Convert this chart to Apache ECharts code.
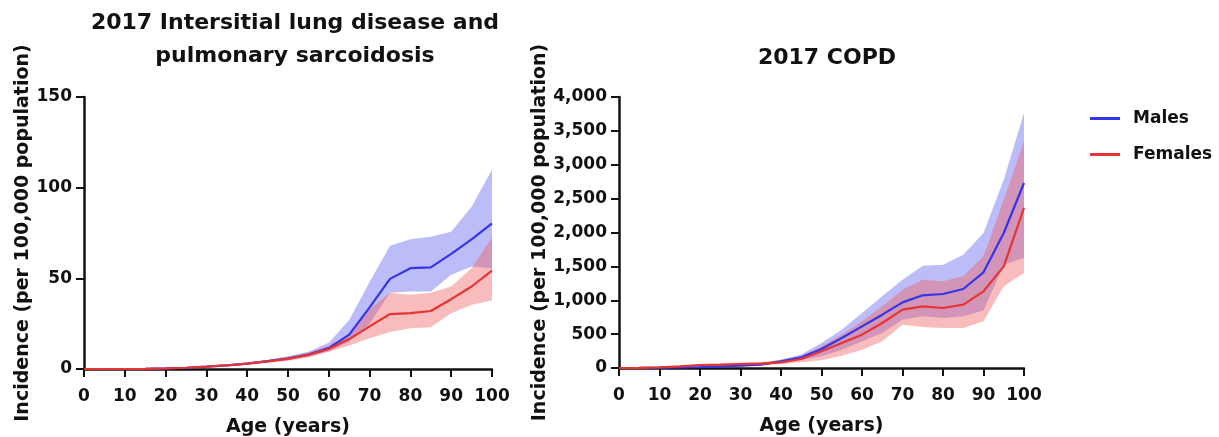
<!DOCTYPE html>
<html><head><meta charset="utf-8">
<script src="https://cdn.jsdelivr.net/npm/echarts@6/dist/echarts.min.js"></script>
<style>html,body{margin:0;padding:0;background:#fff}#c{width:1219px;height:437px}</style>
</head><body><div id="c"></div>
<script>
const ages = ['0','5','10','15','20','25','30','35','40','45','50','55','60','65','70','75','80','85','90','95','100'];
// ILD & pulmonary sarcoidosis
const ildMales      = [0,0,0,0.1,0.3,0.7,1.3,2.0,3.0,4.3,5.8,8.0,11.5,19,34,49.7,55.6,56,63.5,71.5,80.3];
const ildMalesLo    = [0,0,0,0.05,0.2,0.5,1.0,1.6,2.5,3.7,5.0,6.8,9.8,15,25,42,42.7,42.7,52,56.5,55.6];
const ildMalesHi    = [0,0,0.05,0.2,0.5,1.0,1.7,2.5,3.6,5.0,7.0,9.5,14.5,27,48,68,71.5,73,75.7,89.5,110];
const ildFemales    = [0,0,0,0.1,0.3,0.7,1.3,2.0,3.0,4.2,5.6,7.8,11.0,16.5,23.5,30.3,30.8,32,38.5,45.5,54.3];
const ildFemalesLo  = [0,0,0,0.05,0.2,0.5,1.0,1.6,2.5,3.5,4.6,6.5,9.5,13,17,20.4,22.5,23,30.8,35.4,37.8];
const ildFemalesHi  = [0,0,0.05,0.2,0.5,1.0,1.7,2.5,3.6,5.0,6.8,9.0,13,19,33,42,41,42,45.5,55.6,72.6];
// COPD
const copdMales     = [0,2,5,10,15,25,35,49,98,157,280,443,615,787,969,1073,1092,1166,1412,1993,2731];
const copdMalesLo   = [0,1,3,6,10,17,25,36,75,120,172,271,394,517,713,763,738,763,850,1525,1624];
const copdMalesHi   = [0,4,8,15,22,35,48,65,125,200,369,566,812,1058,1304,1510,1525,1673,1993,2780,3764];
const copdFemales   = [0,3,8,25,44,49,59,64,84,133,246,369,492,664,861,910,886,935,1132,1500,2362];
const copdFemalesLo = [0,1,5,16,30,34,41,45,60,85,113,182,271,394,640,605,590,590,690,1205,1402];
const copdFemalesHi = [0,5,12,35,60,68,80,88,115,175,320,492,689,910,1156,1304,1279,1353,1648,2485,3346];

const FONT = 'DejaVu Sans, Liberation Sans, sans-serif';
const BLUE = '#3434e8', RED = '#e63434';
const BLUE_BAND = 'rgba(95,95,240,0.42)', RED_BAND = 'rgba(240,95,95,0.42)';

const diff = (hi,lo) => hi.map((h,i)=>h-lo[i]);

function bandSeries(idx, key, lo, hi, color){
  return [
    {type:'line', name:key+'lo', xAxisIndex:idx, yAxisIndex:idx, stack:key, data:lo,
     showSymbol:false, lineStyle:{opacity:0}, silent:true, z:1},
    {type:'line', name:key+'band', xAxisIndex:idx, yAxisIndex:idx, stack:key, data:diff(hi,lo),
     showSymbol:false, lineStyle:{opacity:0}, areaStyle:{color:color, opacity:1}, silent:true, z:1}
  ];
}
function lineSeries(idx, name, v, color){
  return {type:'line', name:name, xAxisIndex:idx, yAxisIndex:idx, data:v, showSymbol:false,
    lineStyle:{color:color, width:2.2}, itemStyle:{color:color}, z:3};
}
const fmt = v => v.toLocaleString('en-US');

function xAx(idx){
  return {gridIndex:idx, type:'category', data:ages, boundaryGap:false,
    name:'Age (years)', nameLocation:'middle', nameGap:49,
    nameTextStyle:{fontFamily:FONT, fontSize:19, fontWeight:'bold', color:'#111'},
    axisLine:{lineStyle:{color:'#111', width:2.5}},
    axisTick:{show:true, interval:1, length:8, lineStyle:{width:2, color:'#111'}},
    axisLabel:{interval:1, fontFamily:FONT, fontSize:17, fontWeight:'bold', color:'#111', margin:19},
    splitLine:{show:false}};
}
function yAx(idx, max, interval){
  return {gridIndex:idx, type:'value', min:0, max:max, interval:interval,
    name:'Incidence (per 100,000 population)', nameLocation:'middle', nameGap: 50,
    nameTextStyle:{fontFamily:FONT, fontSize:19, fontWeight:'bold', color:'#111'},
    axisLine:{show:true, lineStyle:{color:'#111', width:2.5}},
    axisTick:{show:true, length:8, lineStyle:{width:2, color:'#111'}},
    axisLabel:{fontFamily:FONT, fontSize:17, fontWeight:'bold', color:'#111', margin:12, formatter:fmt},
    splitLine:{show:false}};
}

const chart = echarts.init(document.getElementById('c'), null, {renderer:'canvas'});
chart.setOption({
  animation:false,
  backgroundColor:'#fff',
  title:[
    {text:'2017 Intersitial lung disease and\npulmonary sarcoidosis', left:290, top:2, textAlign:'center',
     textStyle:{fontFamily:FONT, fontSize:22, fontWeight:'bold', color:'#111', lineHeight:33}},
    {text:'2017 COPD', left:822, top:42, textAlign:'center',
     textStyle:{fontFamily:FONT, fontSize:22, fontWeight:'bold', color:'#111'}}
  ],
  legend:{data:['Males','Females'], orient:'vertical', left:1085, top:105, itemGap:19,
    icon:'rect', itemWidth:30, itemHeight:3,
    textStyle:{fontFamily:FONT, fontSize:17, fontWeight:'bold', color:'#111', padding:[0,0,0,8]}},
  grid:[
    {left:84, right:727, top:97, bottom:68, containLabel:false, outerBoundsMode:'none'},
    {left:619, right:195, top:97, bottom:69, containLabel:false, outerBoundsMode:'none'}
  ],
  xAxis:[xAx(0), xAx(1)],
  yAxis:[yAx(0,150,50), yAx(1,4000,500)],
  series:[
    ...bandSeries(0,'im',ildMalesLo,ildMalesHi,BLUE_BAND),
    ...bandSeries(0,'if',ildFemalesLo,ildFemalesHi,RED_BAND),
    ...bandSeries(1,'cm',copdMalesLo,copdMalesHi,BLUE_BAND),
    ...bandSeries(1,'cf',copdFemalesLo,copdFemalesHi,RED_BAND),
    lineSeries(0,'Males',ildMales,BLUE),
    lineSeries(0,'Females',ildFemales,RED),
    lineSeries(1,'Males',copdMales,BLUE),
    lineSeries(1,'Females',copdFemales,RED)
  ]
});
</script></body></html>
